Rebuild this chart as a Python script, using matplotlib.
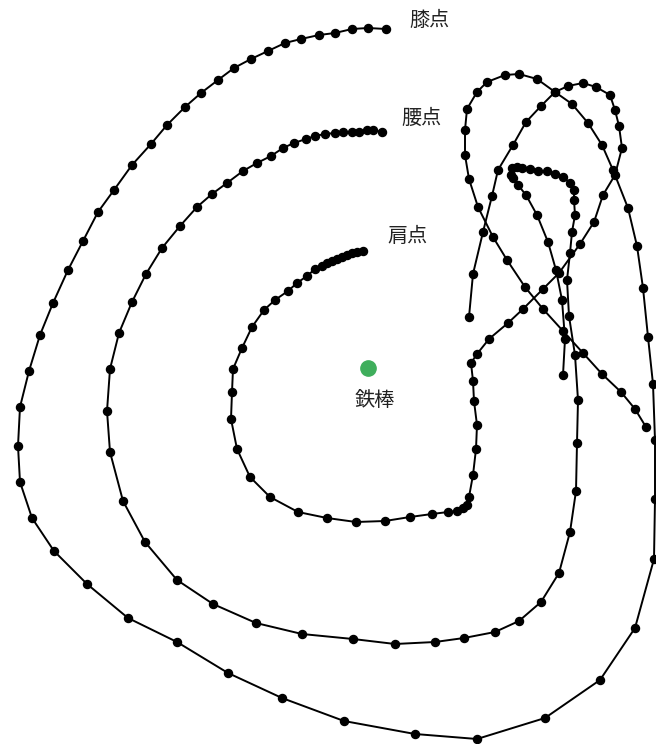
import matplotlib
matplotlib.use("Agg")
import matplotlib.pyplot as plt

plt.rcParams['font.family'] = ['Noto Sans CJK JP', 'DejaVu Sans']

# trajectory points (pixel-space coordinates, y grows downward)
knee_x = [386, 368, 352, 335, 319, 301, 285, 268, 251, 234, 218, 201, 185, 167, 151, 132, 114, 98, 83, 68,
          53, 40, 29, 20, 18, 20, 32, 54, 87, 128, 177, 228, 282, 344, 415, 477, 545, 600, 635, 654,
          655, 655, 653, 648, 643, 637, 628, 613, 602, 588, 572, 555, 537, 519, 505, 487, 477, 467, 465, 465,
          469, 478, 493, 507, 525, 543, 563, 583, 602, 621, 635, 646]
knee_y = [29, 28, 29, 33, 35, 39, 43, 51, 59, 68, 80, 93, 107, 125, 144, 165, 190, 212, 241, 270,
          303, 335, 371, 407, 446, 482, 518, 551, 584, 618, 642, 673, 698, 721, 734, 739, 718, 680, 628, 559,
          499, 440, 384, 337, 288, 246, 208, 170, 145, 123, 104, 92, 79, 74, 75, 82, 92, 109, 130, 155,
          179, 207, 237, 260, 287, 309, 331, 353, 374, 392, 409, 427]

waist_x = [382, 373, 367, 359, 352, 343, 335, 325, 315, 306, 294, 283, 271, 257, 243, 227, 212, 197, 180, 162,
           146, 132, 119, 110, 107, 110, 123, 145, 177, 213, 256, 302, 353, 395, 435, 464, 495, 519, 541, 559,
           570, 576, 577, 578, 575, 569, 567, 570, 572, 575, 574, 574, 570, 563, 555, 547, 538, 530, 522, 517,
           512, 511, 513, 518, 526, 537, 548, 556, 562, 565, 563]
waist_y = [132, 130, 130, 132, 132, 132, 133, 134, 136, 139, 143, 148, 156, 163, 171, 183, 194, 207, 226, 248,
           274, 302, 333, 369, 411, 452, 501, 542, 580, 604, 623, 634, 639, 644, 642, 638, 632, 621, 602, 573,
           532, 491, 443, 400, 355, 316, 280, 253, 232, 215, 200, 190, 183, 177, 174, 171, 171, 169, 168, 167,
           168, 175, 178, 185, 195, 215, 242, 270, 300, 339, 375]

shoulder_x = [363, 357, 352, 347, 342, 337, 332, 327, 322, 315, 307, 297, 288, 275, 264, 252, 242, 233, 232, 231,
              237, 250, 270, 298, 327, 356, 385, 410, 432, 448, 457, 463, 467, 469, 473, 476, 477, 474, 473, 471,
              477, 489, 508, 523, 543, 559, 580, 594, 603, 615, 622, 619, 615, 610, 596, 583, 568, 555, 541, 526,
              513, 498, 492, 483, 473, 469]
shoulder_y = [251, 252, 253, 255, 257, 259, 261, 263, 266, 269, 276, 283, 291, 300, 310, 327, 348, 369, 392, 419,
              449, 477, 497, 512, 518, 522, 521, 517, 514, 512, 511, 508, 505, 497, 475, 449, 425, 401, 381, 363,
              354, 339, 323, 309, 289, 273, 244, 222, 195, 175, 148, 126, 110, 95, 87, 83, 86, 92, 106, 122,
              145, 170, 196, 232, 274, 317]

bar_xy = (368, 368)
labels = ['膝点', '腰点', '肩点', '鉄棒']
label_xy = [(430, 20), (422, 118), (408, 237), (375, 400)]

fig = plt.figure(figsize=(6.56, 7.44), dpi=100)
ax = fig.add_axes([0, 0, 1, 1])

for xs, ys in [(knee_x, knee_y), (waist_x, waist_y), (shoulder_x, shoulder_y)]:
    ax.plot(xs, ys, color='black', lw=1.4, marker='o', ms=5.8,
            markerfacecolor='black', markeredgecolor='black')

ax.plot(*bar_xy, 'o', color='#3fae5c', ms=11)

for txt, (tx, ty) in zip(labels, label_xy):
    ax.text(tx, ty, txt, fontsize=14.5, color='#222222', ha='center', va='center')

ax.set_xlim(0, 656)
ax.set_ylim(744, 0)
ax.axis('off')

fig.savefig('out.png', dpi=100, facecolor='white')
